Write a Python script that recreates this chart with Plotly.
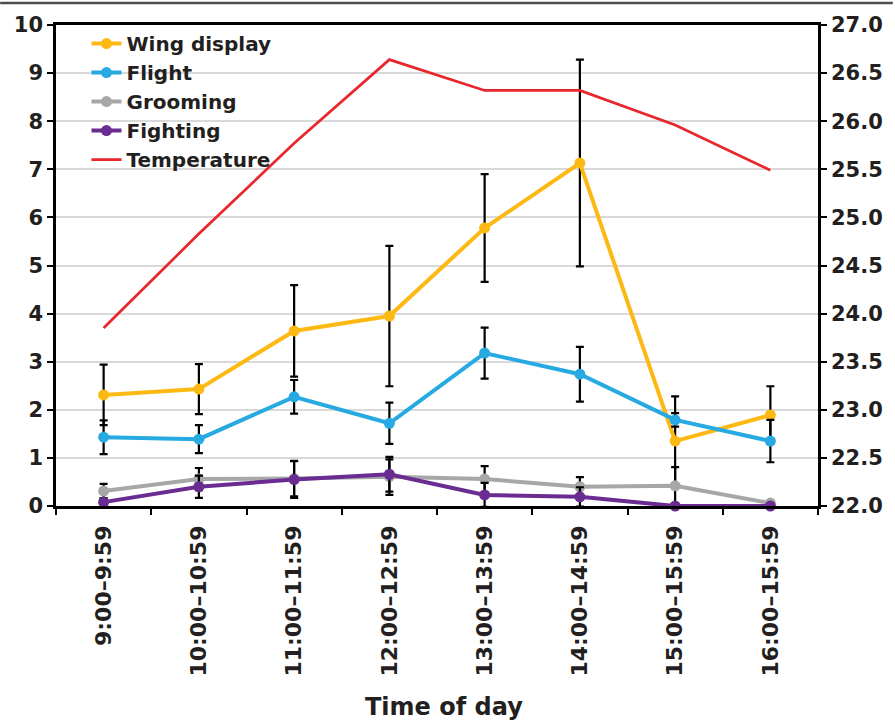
import plotly.graph_objects as go

# Hourly activity counts (mean ± error) and air temperature
time_slots = ["9:00–9:59", "10:00–10:59", "11:00–11:59", "12:00–12:59",
              "13:00–13:59", "14:00–14:59", "15:00–15:59", "16:00–15:59"]

wing_display = [2.31, 2.43, 3.64, 3.95, 5.78, 7.13, 1.35, 1.89]
wing_display_err = [0.63, 0.52, 0.95, 1.46, 1.12, 2.15, 0.93, 0.60]

flight = [1.43, 1.39, 2.27, 1.72, 3.18, 2.74, 1.79, 1.35]
flight_err = [0.35, 0.29, 0.35, 0.43, 0.53, 0.57, 0.14, 0.44]

grooming = [0.31, 0.56, 0.57, 0.61, 0.56, 0.40, 0.42, 0.06]
grooming_err_plus = [0.15, 0.23, 0.37, 0.36, 0.27, 0.20, 0.39, 0.03]
grooming_err_minus = [0.15, 0.23, 0.37, 0.38, 0.27, 0.20, 0.71, 0.03]

fighting = [0.08, 0.40, 0.55, 0.66, 0.23, 0.19, 0.0, 0.0]
fighting_err = [0.08, 0.23, 0.38, 0.36, 0.25, 0.20, 0.0, 0.0]

temperature = [23.85, 24.83, 25.77, 26.64, 26.32, 26.32, 25.96, 25.49]

left_ticks = list(range(0, 11))
right_ticks = [22.0 + 0.5 * i for i in range(11)]

FONT = "DejaVu Sans"
INK = "#231F20"
W, H = 895, 721
ML, MR, MT, MB = 56, 75, 25, 215
PLOT_W = W - ML - MR
PLOT_H = H - MT - MB


def err(plus, minus=None):
    e = dict(type="data", array=plus, color="black", thickness=2.2, width=4)
    if minus is not None:
        e["arrayminus"] = minus
        e["symmetric"] = False
    return e


fig = go.Figure()

series = [
    ("Wing display", wing_display, err(wing_display_err), "#FDB913"),
    ("Flight", flight, err(flight_err), "#27AAE1"),
    ("Grooming", grooming, err(grooming_err_plus, grooming_err_minus), "#A7A7A7"),
    ("Fighting", fighting, err(fighting_err), "#6A2C91"),
]
for name, vals, e, col in series:
    fig.add_trace(go.Scatter(
        x=time_slots, y=vals, name=name, mode="lines+markers",
        line=dict(color=col, width=4),
        marker=dict(color=col, size=11),
        error_y=e, cliponaxis=False,
    ))

fig.add_trace(go.Scatter(
    x=time_slots, y=temperature, name="Temperature", mode="lines",
    line=dict(color="#E8262B", width=2.7), yaxis="y2",
))

tick_font = dict(family=FONT, size=21, weight="bold", color=INK)

fig.update_layout(
    width=W, height=H,
    margin=dict(l=ML, r=MR, t=MT, b=MB, pad=0),
    paper_bgcolor="white", plot_bgcolor="white",
    font=dict(family=FONT, color=INK),
    showlegend=True,
    legend=dict(
        x=0.040, y=1.002, xanchor="left", yanchor="top",
        bgcolor="rgba(0,0,0,0)", borderwidth=0,
        font=dict(family=FONT, size=20, weight="bold", color=INK),
        tracegroupgap=0, itemwidth=30,
    ),
    xaxis=dict(
        type="category", range=[-0.5, 7.5],
        tickson="boundaries", ticks="outside", ticklen=6, tickwidth=2,
        tickcolor="black", showline=True, linecolor="black", linewidth=2.5,
        mirror=True, showgrid=False, tickangle=-90,
        ticklabelstandoff=8,
        tickfont=dict(family=FONT, size=22, weight="bold", color=INK),
    ),
    yaxis=dict(
        range=[0, 10], tickvals=left_ticks, ticks="outside", ticklen=6,
        tickwidth=2, tickcolor="black", showline=True, linecolor="black",
        linewidth=2.5, showgrid=True, gridcolor="#D9D9D9", gridwidth=1.5,
        zeroline=False, tickfont=tick_font,
    ),
    yaxis2=dict(
        range=[22, 27], tickvals=right_ticks, tickformat=".1f",
        overlaying="y", side="right", ticks="outside", ticklen=6,
        tickwidth=2, tickcolor="black", showline=True, linecolor="black",
        linewidth=2.5, showgrid=False, zeroline=False, tickfont=tick_font,
    ),
)

# Axis title
fig.add_annotation(
    text="Time of day", xref="paper", yref="paper",
    x=(445 - ML) / PLOT_W, y=-(707 - MT - PLOT_H) / PLOT_H,
    xanchor="center", yanchor="middle", showarrow=False,
    font=dict(family=FONT, size=24, weight="bold", color=INK),
)

# Page rule across the top edge
fig.add_shape(
    type="line", xref="paper", yref="paper",
    x0=-ML / PLOT_W, x1=(W - ML) / PLOT_W,
    y0=1 + (MT - 3) / PLOT_H, y1=1 + (MT - 3) / PLOT_H,
    line=dict(color="#4D4D4D", width=2.5), layer="above",
)

# Label strip trimmed at the bottom edge of the tick label band
fig.add_shape(
    type="rect", xref="paper", yref="paper",
    x0=-ML / PLOT_W, x1=(W - ML) / PLOT_W,
    y0=-(678 - MT - PLOT_H) / PLOT_H, y1=-(694 - MT - PLOT_H) / PLOT_H,
    fillcolor="white", line=dict(width=0), layer="above",
)

fig.write_html("out.html")
